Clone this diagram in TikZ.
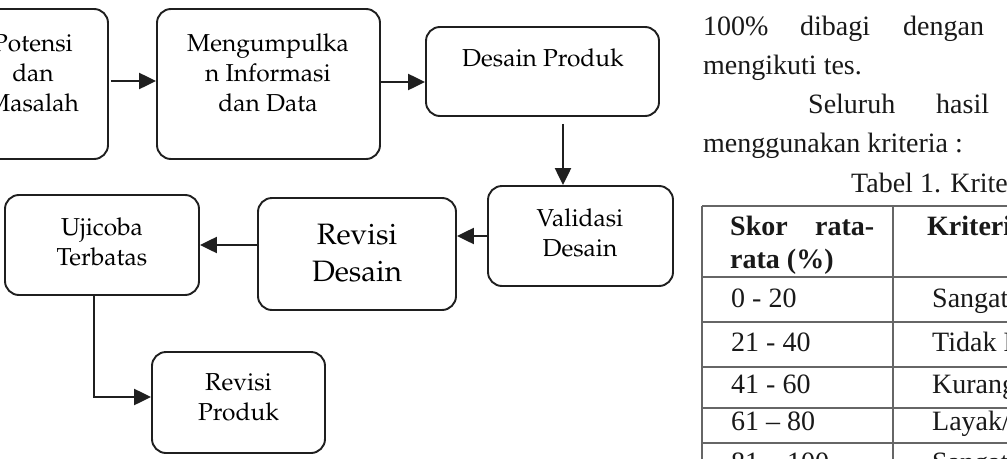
\documentclass[tikz,border=0pt]{standalone}
\usepackage[T1]{fontenc}
\usepackage{fontspec}
\setmainfont{Liberation Serif}
\usetikzlibrary{arrows.meta}
\newcommand{\palfont}{\usefont{T1}{ppl}{m}{n}}
\definecolor{tblgray}{HTML}{666666}
\begin{document}
\begin{tikzpicture}[x=1pt,y=-1pt,
  box/.style={draw=black!88, line width=1.9pt, rounded corners=14pt, inner sep=0pt, fill=white},
  btxt/.style={align=center, inner sep=0pt, font=\palfont\fontsize{24.5}{30}\selectfont, text=black},
  bigtxt/.style={align=center, inner sep=0pt, font=\palfont\fontsize{29.5}{37}\selectfont, text=black},
  arr/.style={draw=black!88, line width=2.3pt, -{Triangle[length=17pt,width=16pt]}},
  ptxt/.style={anchor=base west, inner sep=0pt, font=\fontsize{28}{40}\selectfont, text=black!90},
  ttxt/.style={anchor=base west, inner sep=0pt, font=\fontsize{28}{32}\selectfont, text=black!90},
  htxt/.style={anchor=base west, inner sep=0pt, font=\bfseries\fontsize{28}{32}\selectfont, text=black!90},
  tbl/.style={draw=tblgray, line width=1.7pt}]
\useasboundingbox (0,0) rectangle (1007,458);
\clip (0,0) rectangle (1007,458);
\fill[white] (0,0) rectangle (1007,458);

% flowchart boxes
\node[box, minimum width=150pt, minimum height=150pt] (pm) at (33,84) {};
\node[btxt] (pmt) at (33,73) {Potensi\\dan\\Masalah};
\node[box, minimum width=223pt, minimum height=150pt] (mi) at (268.5,84) {};
\node[btxt] (mit) at (268,73) {Mengumpulka\\n Informasi\\dan Data};
\node[box, minimum width=233pt, minimum height=89pt] (dp) at (542.5,71.5) {};
\node[btxt] (dpt) at (543,58) {Desain Produk};
\node[box, minimum width=185pt, minimum height=100pt] (val) at (580.5,236) {};
\node[btxt] (valt) at (580,233) {Validasi\\Desain};
\node[box, minimum width=198pt, minimum height=112pt] (rd) at (357,254) {};
\node[bigtxt] (rdt) at (357,253.5) {Revisi\\Desain};
\node[box, minimum width=194pt, minimum height=100pt] (uj) at (102,245) {};
\node[btxt] (ujt) at (102,241.5) {Ujicoba\\Terbatas};
\node[box, minimum width=173pt, minimum height=101pt] (rp) at (238.5,402.5) {};
\node[btxt] (rpt) at (238.5,397) {Revisi\\Produk};

% connectors
\draw[arr] ([xshift=2pt,yshift=3pt]pm.east) -- ([yshift=3pt]mi.west);
\draw[arr] ([yshift=2pt]mi.east) -- ([yshift=2pt]mi.east -| dp.west);
\draw[arr] ([xshift=20.5pt,yshift=-7pt]dp.south) -- ([xshift=-17.5pt]val.north);
\draw[arr] (val.west) -- (val.west -| rd.east);
\draw[arr] (uj.east -| rd.west) -- (uj.east);
\draw[arr] ([xshift=-8pt]uj.south) |- ([yshift=5.5pt]rp.west);

% paragraph text
\node[ptxt] (w1) at (703,35) {100\%};
\node[ptxt] (w2) at (800,35) {dibagi};
\node[ptxt] (w3) at (903,35) {dengan};
\node[ptxt] (l2) at (703,74) {mengikuti tes.};
\node[ptxt] (w4) at (808,113) {Seluruh};
\node[ptxt] (w5) at (936,113) {hasil};
\node[ptxt] (l4) at (703,152) {menggunakan kriteria :};
\node[ptxt] (cap) at (851,192) {Tabel 1. Kriteria};

% table
\draw[tbl] (702,206) -- (1010,206);
\draw[tbl] (702,206) -- (702,460);
\draw[tbl] (893,206) -- (893,460);
\foreach \yy in {277,322,367,408,443} \draw[tbl] (702,\yy) -- (1010,\yy);

\node[htxt] (h1) at (730,235) {Skor};
\node[htxt] (h2) at (815,235) {rata-};
\node[htxt] (h3) at (730,268) {rata (\%)};
\node[htxt] (h4) at (927,235) {Kriteria};

\node[ttxt] (a1) at (731,307) {0 - 20};
\node[ttxt] (b1) at (932,307) {Sangat};
\node[ttxt] (a2) at (731,351) {21 - 40};
\node[ttxt] (b2) at (932,351) {Tidak Layak};
\node[ttxt] (a3) at (731,393) {41 - 60};
\node[ttxt] (b3) at (932,393) {Kurang};
\node[ttxt] (a4) at (731,430) {61 -- 80};
\node[ttxt] (b4) at (932,430) {Layak/};
\node[ttxt] (a5) at (731,471) {81 -- 100};
\node[ttxt] (b5) at (932,471) {Sangat};
\end{tikzpicture}
\end{document}
